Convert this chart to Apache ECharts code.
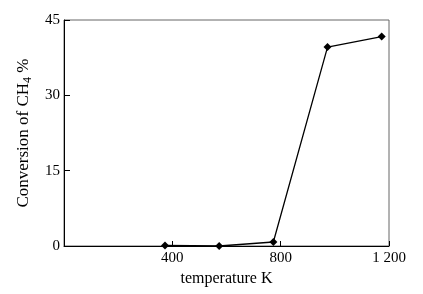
<!DOCTYPE html>
<html>
<head>
<meta charset="utf-8">
<script src="https://cdn.jsdelivr.net/npm/echarts@6/dist/echarts.min.js"></script>
<style>
  html, body { margin: 0; padding: 0; background: #fff; }
  #chart { width: 423px; height: 294px; }
</style>
</head>
<body>
<div id="chart"></div>
<script>
// temperature (K) and CH4 conversion (%)
var temperature = [373, 573, 773, 973, 1173];
var conversion = [0.1, 0, 0.8, 39.6, 41.7];
var xTicks = [0, 400, 800, 1200];
var yTicks = [0, 15, 30, 45];

var font = '"Liberation Serif", "DejaVu Serif", serif';
var points = temperature.map(function (t, i) { return [t, conversion[i]]; });

var chart = echarts.init(document.getElementById('chart'));
chart.setOption({
  animation: false,
  grid: {
    left: 64, right: 34, top: 20, bottom: 48,
    show: true, borderColor: '#666', borderWidth: 1
  },
  xAxis: {
    type: 'value',
    min: xTicks[0], max: xTicks[xTicks.length - 1], interval: 400,
    name: 'temperature K',
    nameLocation: 'middle',
    nameGap: 25,
    nameTextStyle: { fontFamily: font, fontSize: 16, color: '#000' },
    axisLine: { lineStyle: { color: '#000', width: 1 } },
    axisTick: { inside: true, length: 5, lineStyle: { color: '#000' } },
    axisLabel: {
      showMinLabel: false,
      margin: 5,
      fontFamily: font, fontSize: 15, color: '#000',
      formatter: function (v) { return v >= 1000 ? '1 ' + String(v).slice(1) : String(v); }
    },
    splitLine: { show: false }
  },
  yAxis: {
    type: 'value',
    min: yTicks[0], max: yTicks[yTicks.length - 1], interval: 15,
    name: '{a|Conversion of CH}{s|4}{a| %}',
    nameLocation: 'middle',
    nameGap: 27,
    nameTextStyle: {
      rich: {
        a: { fontFamily: font, fontSize: 17, color: '#000', lineHeight: 22 },
        s: { fontFamily: font, fontSize: 12, color: '#000', lineHeight: 22, padding: [9, 0, 0, 0] }
      }
    },
    axisLine: { show: true, lineStyle: { color: '#000', width: 1 } },
    axisTick: { show: true, inside: true, length: 6, lineStyle: { color: '#000' } },
    axisLabel: { margin: 4, fontFamily: font, fontSize: 15, color: '#000' },
    splitLine: { show: false }
  },
  series: [{
    type: 'line',
    data: points,
    symbol: 'diamond',
    symbolSize: 8,
    itemStyle: { color: '#000' },
    lineStyle: { color: '#000', width: 1.3 }
  }]
});
</script>
</body>
</html>
